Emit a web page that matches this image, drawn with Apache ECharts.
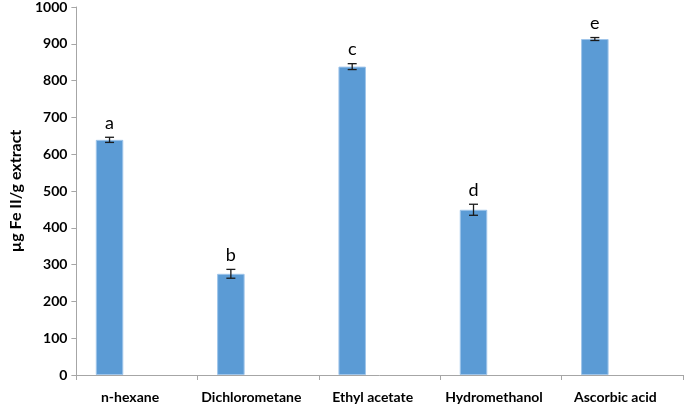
<!DOCTYPE html>
<html>
<head>
<meta charset="utf-8">
<script src="https://cdn.jsdelivr.net/npm/echarts@6/dist/echarts.min.js"></script>
<style>
html,body{margin:0;padding:0;background:#fff;}
#chart{width:685px;height:404px;}
</style>
</head>
<body>
<div id="chart"></div>
<script>
var categories = ['n-hexane', 'Dichlorometane', 'Ethyl acetate', 'Hydromethanol', 'Ascorbic acid'];
var values = [639, 275, 838, 449, 913];
var errors = [7, 12, 8, 15, 4];
var letters = ['a', 'b', 'c', 'd', 'e'];
var yTicks = [0, 100, 200, 300, 400, 500, 600, 700, 800, 900, 1000];

var FONT = 'Lato, "Open Sans", sans-serif';
var chart = echarts.init(document.getElementById('chart'), null, {renderer: 'canvas'});

var CAT_GAP = 0.32;
var N_SLOTS = 3;

var errData = categories.map(function (c, i) { return [i, values[i], errors[i], letters[i]]; });

var option = {
  animation: false,
  backgroundColor: '#ffffff',
  grid: {left: 63, right: 2, top: 6, bottom: 29, containLabel: false},
  xAxis: {
    type: 'category',
    data: categories,
    boundaryGap: true,
    axisLine: {lineStyle: {color: '#a6a6a6', width: 1}},
    axisTick: {show: true, length: 5, lineStyle: {color: '#a6a6a6'}},
    axisLabel: {color: '#000', fontFamily: FONT, fontWeight: 'bold', fontSize: 14, margin: 15, interval: 0, padding: [0, 14, 0, 0]},
    splitLine: {show: false}
  },
  yAxis: {
    type: 'value',
    min: yTicks[0],
    max: yTicks[yTicks.length - 1],
    interval: yTicks[1] - yTicks[0],
    name: 'µg Fe II/g extract',
    nameLocation: 'middle',
    nameGap: 44,
    nameTextStyle: {color: '#000', fontFamily: FONT, fontWeight: 'bold', fontSize: 16},
    axisLine: {show: true, lineStyle: {color: '#a6a6a6', width: 1}},
    axisTick: {show: true, length: 5, lineStyle: {color: '#a6a6a6'}},
    axisLabel: {color: '#000', fontFamily: FONT, fontWeight: 'bold', fontSize: 14, margin: 9,
      formatter: function (v) { return String(v); }},
    splitLine: {show: false}
  },
  series: [
    {
      type: 'bar',
      data: values,
      barGap: '0%',
      barCategoryGap: (CAT_GAP * 100) + '%',
      itemStyle: {color: '#5b9bd5', borderColor: '#9fc5ea', borderWidth: 1}
    },
    {type: 'bar', data: categories.map(function () { return null; })},
    {type: 'bar', data: categories.map(function () { return null; })},
    {
      type: 'custom',
      data: errData,
      z: 10,
      encode: {x: 0, y: 1},
      renderItem: function (params, api) {
        var idx = api.value(0);
        var v = api.value(1);
        var e = api.value(2);
        var band = api.size([1, 0])[0];
        var barW = band * (1 - CAT_GAP) / N_SLOTS;
        var center = api.coord([idx, v]);
        var x = center[0] - barW;
        var yHi = api.coord([idx, v + e])[1];
        var yLo = api.coord([idx, v - e])[1];
        var cap = 4.5;
        var st = {stroke: '#1a1a1a', lineWidth: 1.3};
        return {
          type: 'group',
          children: [
            {type: 'line', shape: {x1: x, y1: yHi, x2: x, y2: yLo}, style: st},
            {type: 'line', shape: {x1: x - cap, y1: yHi, x2: x + cap, y2: yHi}, style: st},
            {type: 'line', shape: {x1: x - cap, y1: yLo, x2: x + cap, y2: yLo}, style: st},
            {type: 'text', style: {text: letters[params.dataIndex], x: x, y: yHi - 5, align: 'center', verticalAlign: 'bottom', fill: '#000', font: '18px ' + FONT}}
          ]
        };
      }
    }
  ]
};
chart.setOption(option);
</script>
</body>
</html>
